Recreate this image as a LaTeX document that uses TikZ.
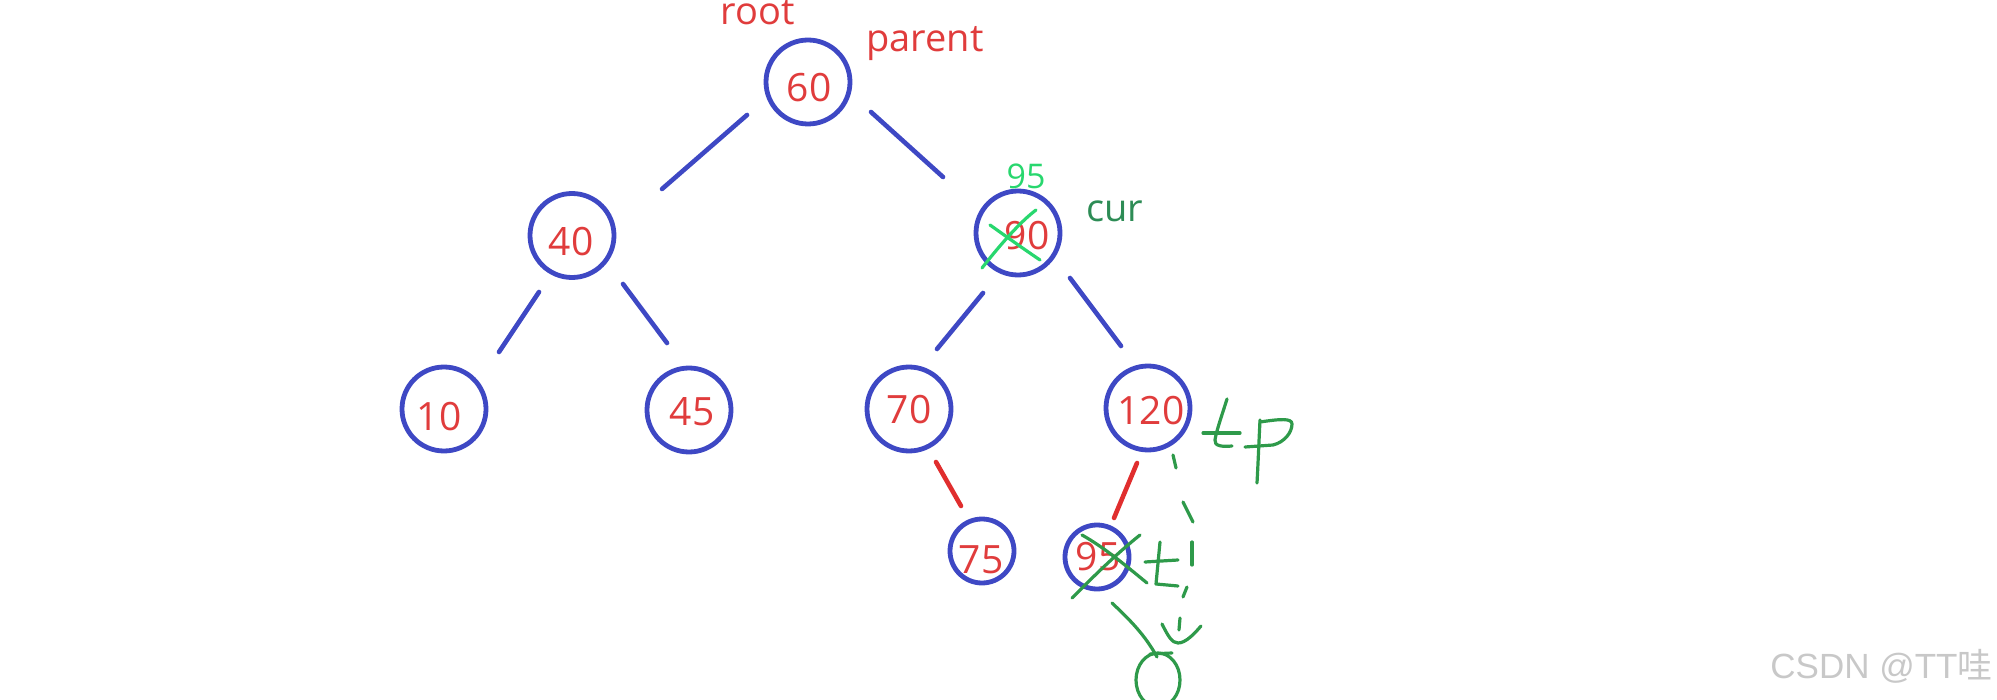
\documentclass[tikz,border=0pt]{standalone}
\usepackage{fontspec}
\setmainfont{Open Sans}
\newfontfamily\wmfont{Liberation Sans}
\newfontfamily\cjkfont{Noto Sans CJK SC}
\usetikzlibrary{calc}
\definecolor{nodeblue}{HTML}{3E48C4}
\definecolor{numred}{HTML}{E03C3C}
\definecolor{edgered}{HTML}{E02E2E}
\definecolor{curgreen}{HTML}{2D8C55}
\definecolor{brightgreen}{HTML}{28D76E}
\definecolor{inkgreen}{HTML}{2E9A4A}
\definecolor{wmgray}{HTML}{C8C8C8}
\begin{document}
\begin{tikzpicture}[x=0.5pt,y=-0.5pt,
  bignode/.style={circle,draw=nodeblue,line width=2.4pt,minimum size=42pt,inner sep=0pt},
  smallnode/.style={bignode,minimum size=32pt},
  numtext/.style={text=numred,font=\fontsize{19.5pt}{23pt}\selectfont,inner sep=0pt},
  tagtext/.style={font=\fontsize{19pt}{23pt}\selectfont,inner sep=0pt},
  treeline/.style={draw=nodeblue,line width=2.3pt,line cap=round},
  redline/.style={draw=edgered,line width=2.3pt,line cap=round},
  ink/.style={draw=inkgreen,line width=1.6pt,line cap=round,line join=round},
  brightink/.style={draw=brightgreen,line width=1.6pt,line cap=round,line join=round}]
\useasboundingbox (0,0) rectangle (1997,700);
\clip (0,0) rectangle (1997,700);

% circles
\node[bignode] (n60) at (808,82) {};
\node[bignode] (n40) at (572,235.5) {};
\node[bignode] (n90) at (1018,233) {};
\node[bignode] (n10) at (444,409) {};
\node[bignode] (n45) at (689,410) {};
\node[bignode] (n70) at (909,409) {};
\node[bignode] (n120) at (1148,408) {};
\node[smallnode] (n75) at (982,551) {};
\node[smallnode] (n95) at (1097,557) {};

% numbers
\node[numtext] (t60) at (809,88) {60};
\node[numtext] (t40) at (571,242) {40};
\node[numtext] (t90) at (1027,236) {90};
\node[numtext] (t10) at (439,417) {10};
\node[numtext] (t45) at (692,412) {45};
\node[numtext] (t70) at (909,410) {70};
\node[numtext] (t120) at (1151,411) {120};
\node[numtext] (t75) at (981,560) {75};
\node[numtext] (t95) at (1098,557) {95};

% edges
\draw[treeline] ($(n60)+(-61,33)$) -- ($(n40)+(90,-46.5)$);
\draw[treeline] ($(n60)+(63,30)$) -- ($(n90)+(-75,-56)$);
\draw[treeline] ($(n40)+(-33,56.5)$) -- ($(n10)+(55,-57)$);
\draw[treeline] ($(n40)+(51,48.5)$) -- ($(n45)+(-22,-67)$);
\draw[treeline] ($(n90)+(-35,60)$) -- ($(n70)+(28,-60)$);
\draw[treeline] ($(n90)+(52,45)$) -- ($(n120)+(-27,-62)$);
\draw[redline] ($(n70)+(27,53)$) -- ($(n75)+(-21,-45)$);
\draw[redline] ($(n120)+(-11,55)$) -- ($(n95)+(17,-39)$);

% labels
\node[tagtext,text=numred,anchor=base] (root) at (758,25) {root};
\node[tagtext,text=numred,anchor=base] (parent) at (925,52) {parent};
\node[tagtext,text=curgreen,anchor=base] (cur) at (1115,222) {cur};
\node[tagtext,text=brightgreen,font=\fontsize{17pt}{20pt}\selectfont] (new95) at (1026,176) {95};

% green cross over 90
\draw[brightink] (990,225) .. controls (1000,232) and (1015,243) .. (1040,260);
\draw[brightink] (1036,210) .. controls (1020,222) and (1000,245) .. (982,268);

% green cross over 95
\draw[ink] (1082,535) .. controls (1105,548) and (1125,565) .. (1147,583);
\draw[ink] (1140,535) .. controls (1115,555) and (1092,578) .. (1072,598);

% handwritten mark beside 95
\draw[ink] (1145,562) -- (1178,560);
\draw[ink] (1160,542) -- (1156,584) -- (1178,586);

% handwritten mark beside 120
\draw[ink] (1227,399) .. controls (1222,415) and (1216,432) .. (1215,440) .. controls (1214,446) and (1222,447) .. (1232,446);
\draw[ink] (1203,433) -- (1240,433);
\draw[ink] (1245,447) -- (1273,445) .. controls (1285,442) and (1292,432) .. (1292,424) .. controls (1292,418) and (1280,419) .. (1260,422);
\draw[ink] (1260,420) .. controls (1259,440) and (1258,465) .. (1257,483);

% dashed handwritten path
\draw[ink] (1173,455) -- (1176,468);
\draw[ink] (1183,502) -- (1193,522);
\draw[ink] (1192,542) -- (1192,565);
\draw[ink] (1187,587) -- (1183,597);
\draw[ink] (1180,618) -- (1179,630);
\draw[ink] (1162,624) .. controls (1168,636) and (1172,643) .. (1178,643) .. controls (1186,643) and (1195,633) .. (1201,626);

% stroke to small circle
\draw[ink] (1112,603) .. controls (1130,620) and (1145,635) .. (1157,657);
\draw[ink] (1150,654) -- (1172,653);
\draw[ink] (1158,680) ellipse [x radius=22, y radius=27];

% watermark
\node[anchor=base east,text=wmgray,inner sep=0pt,font=\wmfont\fontsize{17.5pt}{20pt}\selectfont] (wm) at (1993,678) {CSDN @TT{\cjkfont 哇}};
\end{tikzpicture}
\end{document}
